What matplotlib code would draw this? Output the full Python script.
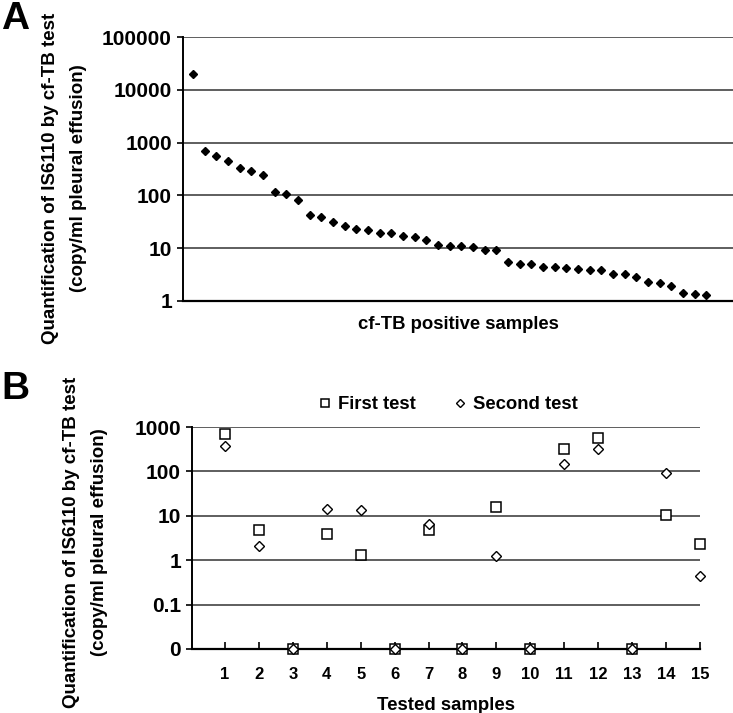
import numpy as np
import matplotlib
matplotlib.use("Agg")
import matplotlib.pyplot as plt
from matplotlib.ticker import FixedLocator, NullLocator

plt.rcParams['font.family'] = ['Liberation Sans', 'DejaVu Sans']
plt.rcParams['font.weight'] = 'bold'

# panel A: copies per ml for each cf-TB positive sample (sorted)
copies_a = [20000, 690, 560, 445, 323, 287, 240, 114, 106, 81,
            43, 39, 31.6, 26, 22.6, 22, 19.5, 19, 17, 16,
            14.3, 11.3, 10.8, 10.8, 10.4, 9.4, 9.4, 5.5, 4.9, 4.9,
            4.4, 4.4, 4.2, 4.05, 3.8, 3.8, 3.27, 3.27, 2.87, 2.31,
            2.21, 1.9, 1.43, 1.37, 1.28]
a_ticks = [1, 10, 100, 1000, 10000, 100000]
a_ticklabels = ['1', '10', '100', '1000', '10000', '100000']

# panel B: repeated test on 15 samples (0 = not detected)
samples = list(range(1, 16))
first_test = [690, 4.9, 0, 4.0, 1.34, 0, 4.7, 0, 15.8, 0, 325, 556, 0, 10.3, 2.3]
second_test = [370, 2.05, 0, 14.6, 13.4, 0, 6.5, 0, 1.22, 0, 145, 314, 0, 93, 0.44]
b_ticks = [0.01, 0.1, 1, 10, 100, 1000]
b_ticklabels = ['0', '0.1', '1', '10', '100', '1000']
zero_pos = 0.01  # where "0" sits on the log axis

ylab = 'Quantification of IS6110 by cf-TB test\n(copy/ml pleural effusion)'

fig = plt.figure(figsize=(7.33, 7.13), dpi=100)

# ---- panel A
ax = fig.add_axes([0.2497, 0.578, 0.7503, 0.370])
x_a = np.arange(1, len(copies_a) + 1)
ax.plot(x_a, copies_a, 'D', color='black', markersize=4.0, clip_on=False, zorder=3)
ax.set_yscale('log')
ax.set_ylim(1, 100000)
ax.set_xlim(0.15, 47.3)
ax.yaxis.set_major_locator(FixedLocator(a_ticks))
ax.yaxis.set_minor_locator(NullLocator())
ax.set_yticklabels(a_ticklabels, fontsize=15, fontweight='bold')
ax.set_xticks([])
for t in a_ticks:
    ax.axhline(t, color='#333333', linewidth=1.1, zorder=1)
for s in ['top', 'right']:
    ax.spines[s].set_visible(False)
ax.spines['left'].set_linewidth(1.4)
ax.spines['bottom'].set_linewidth(1.6)
ax.tick_params(axis='y', direction='out', length=4, width=1.2, pad=4)
ax.set_xlabel('cf-TB positive samples', fontsize=13.3, fontweight='bold', labelpad=11)

fig.text(0.088, 0.75, ylab, rotation=90, ha='center', va='center',
         fontsize=13.5, fontweight='bold', multialignment='center', linespacing=1.85)
fig.text(0.002, 0.998, 'A', fontsize=28, fontweight='bold', ha='left', va='top')

# ---- panel B
ax2 = fig.add_axes([0.262, 0.0898, 0.693, 0.3112])
f_plot = [v if v > 0 else zero_pos for v in first_test]
s_plot = [v if v > 0 else zero_pos for v in second_test]
ax2.plot(samples, f_plot, 's', markerfacecolor='white', markeredgecolor='black',
         markersize=7, markeredgewidth=1.1, clip_on=False, zorder=3, label='First test')
ax2.plot(samples, s_plot, 'D', markerfacecolor='white', markeredgecolor='black',
         markersize=5.5, markeredgewidth=1.0, clip_on=False, zorder=3, label='Second test')
ax2.set_yscale('log')
ax2.set_ylim(zero_pos, 1000)
ax2.set_xlim(0.03, 15)
ax2.yaxis.set_major_locator(FixedLocator(b_ticks))
ax2.yaxis.set_minor_locator(NullLocator())
ax2.set_yticklabels(b_ticklabels, fontsize=15, fontweight='bold')
ax2.set_xticks(samples)
ax2.set_xticklabels([str(s) for s in samples], fontsize=12, fontweight='bold')
for t in b_ticks[1:]:
    ax2.axhline(t, color='#333333', linewidth=1.1, zorder=1)
for s in ['top', 'right']:
    ax2.spines[s].set_visible(False)
ax2.spines['left'].set_linewidth(1.4)
ax2.spines['bottom'].set_linewidth(1.6)
ax2.tick_params(axis='y', direction='out', length=4, width=1.2, pad=4)
ax2.tick_params(axis='x', direction='in', length=5, width=1.2, pad=13)
ax2.set_xlabel('Tested samples', fontsize=13.4, fontweight='bold', labelpad=11)
ax2.legend(loc='lower center', bbox_to_anchor=(0.502, 1.0), ncol=2, frameon=False,
           handletextpad=0.2, columnspacing=1.9, borderaxespad=0.35, markerscale=0.8,
           handlelength=1.0, prop={'weight': 'bold', 'size': 13.3})

fig.text(0.117, 0.24, ylab, rotation=90, ha='center', va='center',
         fontsize=13.5, fontweight='bold', multialignment='center', linespacing=1.85)
fig.text(0.002, 0.48, 'B', fontsize=28, fontweight='bold', ha='left', va='top')

fig.savefig('out.png', dpi=100)
